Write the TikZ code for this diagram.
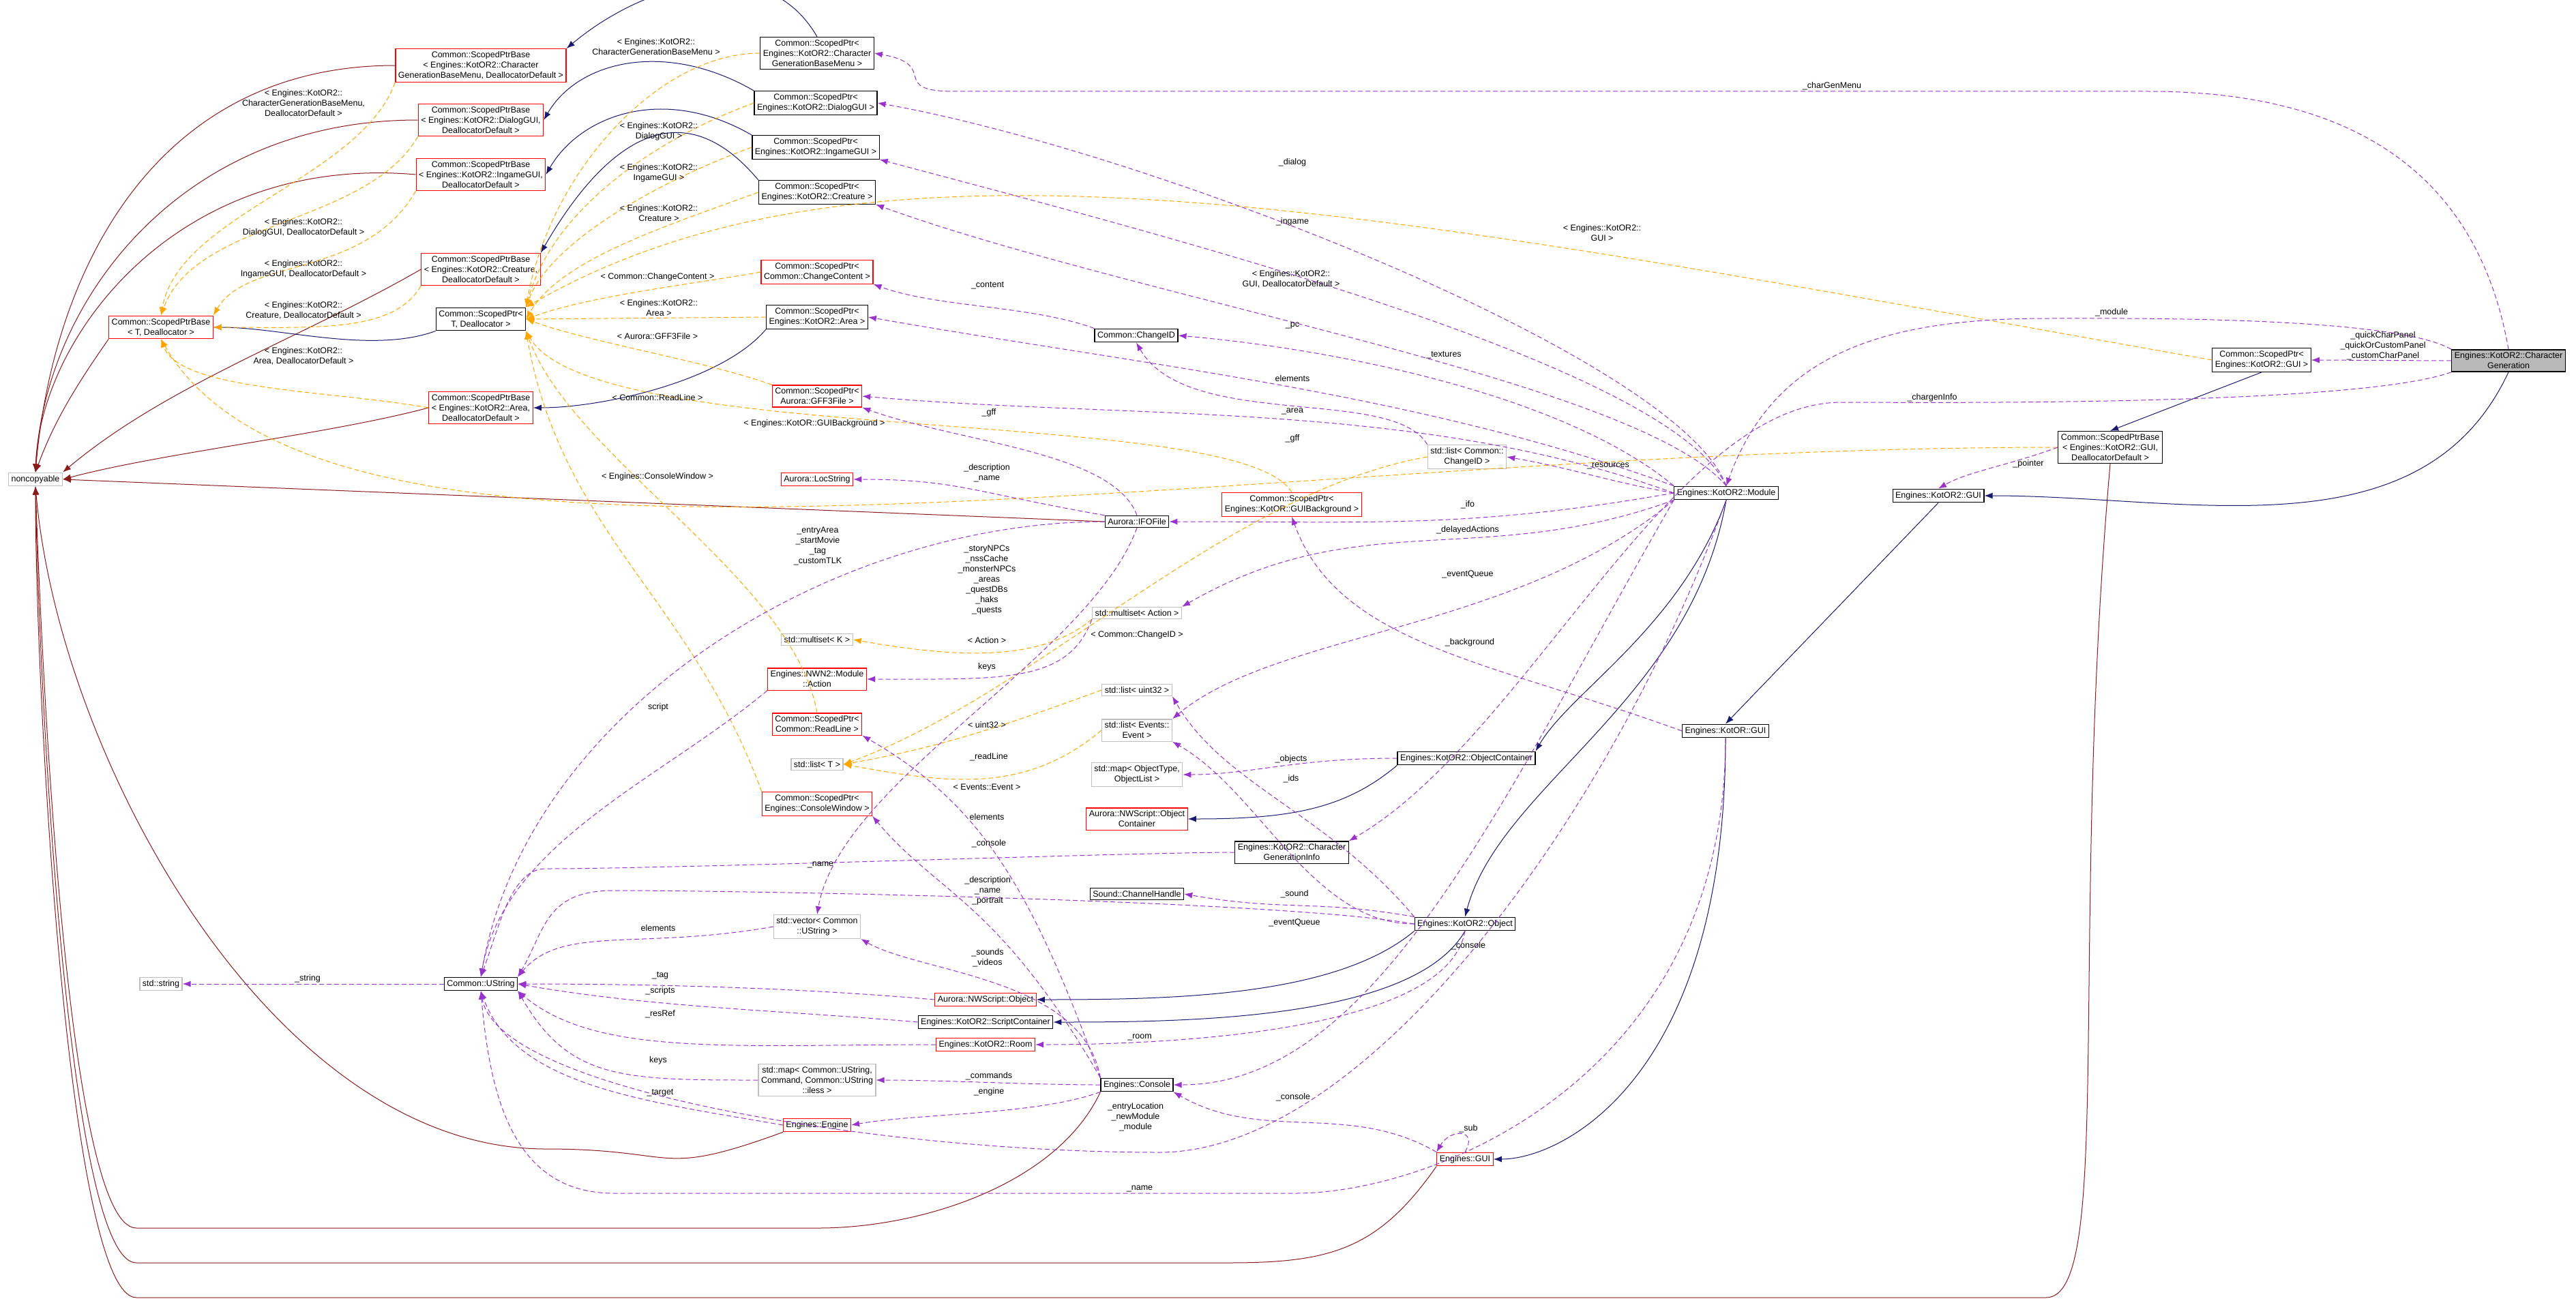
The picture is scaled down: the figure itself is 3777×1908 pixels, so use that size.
\documentclass[tikz,border=0pt]{standalone}
\usepackage{fontspec}
\setmainfont{Liberation Sans}
\usetikzlibrary{arrows.meta}
\definecolor{inh}{RGB}{25,25,112}
\definecolor{priv}{RGB}{139,26,26}
\definecolor{usec}{RGB}{153,50,204}
\definecolor{tmpl}{RGB}{255,165,0}
\begin{document}
\begin{tikzpicture}[x=1pt,y=1pt,
  every node/.style={font=\fontsize{12.5}{15}\selectfont},
  bx/.style={draw=black,line width=1.2pt,fill=white,align=center,inner sep=4pt},
  rbx/.style={bx,draw=red},
  gbx/.style={bx,draw=gray!50},
  lbl/.style={align=center,inner sep=1pt},
  inhe/.style={draw=inh,line width=1pt,-{Latex[length=12pt,width=9pt]}},
  prv/.style={draw=priv,line width=1pt,-{Latex[length=12pt,width=9pt]}},
  usee/.style={draw=usec,line width=1pt,dash pattern=on 7pt off 4pt,-{Latex[length=12pt,width=9pt]}},
  tmp/.style={draw=tmpl,line width=1pt,dash pattern=on 7pt off 4pt,-{Latex[length=12pt,width=9pt]}}]
\useasboundingbox (0,0) rectangle (3777,-1908);
% nodes
\node[gbx] (nc) at (52,-703) {noncopyable};
\node[rbx] (spbcg) at (705,-96) {Common::ScopedPtrBase\\< Engines::KotOR2::Character\\GenerationBaseMenu, DeallocatorDefault >};
\node[rbx] (spbdg) at (705,-176) {Common::ScopedPtrBase\\< Engines::KotOR2::DialogGUI,\\DeallocatorDefault >};
\node[rbx] (spbig) at (705,-256) {Common::ScopedPtrBase\\< Engines::KotOR2::IngameGUI,\\DeallocatorDefault >};
\node[rbx] (spbcr) at (705,-395) {Common::ScopedPtrBase\\< Engines::KotOR2::Creature,\\DeallocatorDefault >};
\node[rbx] (spbt) at (236,-480) {Common::ScopedPtrBase\\< T, Deallocator >};
\node[bx] (spt) at (705,-468) {Common::ScopedPtr<\\T, Deallocator >};
\node[rbx] (spbar) at (705,-598) {Common::ScopedPtrBase\\< Engines::KotOR2::Area,\\DeallocatorDefault >};
\node[bx] (spcg) at (1198,-78) {Common::ScopedPtr<\\Engines::KotOR2::Character\\GenerationBaseMenu >};
\node[bx] (spdg) at (1196,-151) {Common::ScopedPtr<\\Engines::KotOR2::DialogGUI >};
\node[bx] (spig) at (1196,-216) {Common::ScopedPtr<\\Engines::KotOR2::IngameGUI >};
\node[bx] (spcr) at (1198,-282) {Common::ScopedPtr<\\Engines::KotOR2::Creature >};
\node[rbx] (spcc) at (1198,-399) {Common::ScopedPtr<\\Common::ChangeContent >};
\node[bx] (spar) at (1198,-465) {Common::ScopedPtr<\\Engines::KotOR2::Area >};
\node[rbx] (spgff) at (1198,-581) {Common::ScopedPtr<\\Aurora::GFF3File >};
\node[rbx] (loc) at (1198,-703) {Aurora::LocString};
\node[gbx] (msk) at (1198,-938) {std::multiset< K >};
\node[rbx] (nwa) at (1198,-996) {Engines::NWN2::Module\\::Action};
\node[rbx] (sprl) at (1198,-1062) {Common::ScopedPtr<\\Common::ReadLine >};
\node[gbx] (lt) at (1198,-1121) {std::list< T >};
\node[rbx] (spcw) at (1198,-1179) {Common::ScopedPtr<\\Engines::ConsoleWindow >};
\node[gbx] (vus) at (1198,-1359) {std::vector< Common\\::UString >};
\node[gbx] (str) at (236,-1443) {std::string};
\node[bx] (us) at (705,-1443) {Common::UString};
\node[gbx] (mus) at (1198,-1584) {std::map< Common::UString,\\Command, Common::UString\\::iless >};
\node[rbx] (eng) at (1198,-1650) {Engines::Engine};
\node[bx] (cid) at (1666,-492) {Common::ChangeID};
\node[bx] (ifo) at (1667,-765) {Aurora::IFOFile};
\node[rbx] (spbg) at (1894,-740) {Common::ScopedPtr<\\Engines::KotOR::GUIBackground >};
\node[gbx] (msa) at (1667,-899) {std::multiset< Action >};
\node[gbx] (lu) at (1667,-1012) {std::list< uint32 >};
\node[gbx] (le) at (1667,-1071) {std::list< Events::\\Event >};
\node[gbx] (mot) at (1667,-1136) {std::map< ObjectType,\\ObjectList >};
\node[rbx] (noc) at (1667,-1201) {Aurora::NWScript::Object\\Container};
\node[bx] (cgi) at (1894,-1250) {Engines::KotOR2::Character\\GenerationInfo};
\node[bx] (snd) at (1667,-1311) {Sound::ChannelHandle};
\node[rbx] (nwo) at (1445,-1466) {Aurora::NWScript::Object};
\node[bx] (sc) at (1445,-1499) {Engines::KotOR2::ScriptContainer};
\node[rbx] (room) at (1445,-1532) {Engines::KotOR2::Room};
\node[bx] (con) at (1667,-1591) {Engines::Console};
\node[gbx] (lcid) at (2151,-670) {std::list< Common::\\ChangeID >};
\node[bx] (mod) at (2531,-723) {Engines::KotOR2::Module};
\node[bx] (k2gui) at (2842,-727) {Engines::KotOR2::GUI};
\node[bx] (spbgui) at (3094,-656) {Common::ScopedPtrBase\\< Engines::KotOR2::GUI,\\DeallocatorDefault >};
\node[bx] (kgui) at (2530,-1072) {Engines::KotOR::GUI};
\node[bx] (oc) at (2150,-1112) {Engines::KotOR2::ObjectContainer};
\node[bx] (obj) at (2148,-1355) {Engines::KotOR2::Object};
\node[rbx] (egui) at (2148,-1700) {Engines::GUI};
\node[bx] (spgui) at (3316,-528) {Common::ScopedPtr<\\Engines::KotOR2::GUI >};
\node[bx,fill=gray!55] (cg) at (3678,-529) {Engines::KotOR2::Character\\Generation};
% private inheritance to noncopyable
\draw[prv] (spbcg.west) .. controls +(180:350) and +(85:300) .. (nc.north);
\draw[prv] (spbdg.west) .. controls +(180:350) and +(87:250) .. (nc.north);
\draw[prv] (spbig.west) .. controls +(175:350) and +(88:200) .. (nc.north);
\draw[prv] (spbcr.west) .. controls +(210:200) and +(40:200) .. (nc.north east);
\draw[prv] (spbt.south west) .. controls +(235:80) and +(70:80) .. (nc.north);
\draw[prv] (spbar.west) .. controls +(195:150) and +(15:150) .. (nc.east);
\draw[prv] (ifo.west) -- (nc.east);
\draw[prv] (eng.south west) .. controls +(200:200) and +(0:200) .. (800,-1685) .. controls +(180:400) and +(-85:400) .. (nc.south);
\draw[prv] (con.south west) .. controls +(245:150) and +(0:150) .. (1200,-1801) -- (200,-1801) .. controls +(180:100) and +(-88:300) .. (nc.south);
\draw[prv] (egui.south west) .. controls +(235:150) and +(0:150) .. (1800,-1852) -- (200,-1852) .. controls +(180:100) and +(-89:300) .. (nc.south);
\draw[prv] (spbgui.south) .. controls +(-95:700) and +(0:100) .. (3000,-1903) -- (200,-1903) .. controls +(180:100) and +(-90:300) .. (nc.south);
% public inheritance
\draw[inhe] (spcg.north) .. controls +(120:150) and +(40:150) .. (spbcg.north east);
\draw[inhe] (spdg.north west) .. controls +(150:150) and +(60:100) .. (spbdg.east);
\draw[inhe] (spig.north west) .. controls +(150:150) and +(60:100) .. (spbig.east);
\draw[inhe] (spcr.north west) .. controls +(130:200) and +(60:150) .. (spbcr.north east);
\draw[inhe] (spt.south west) .. controls +(200:100) and +(0:100) .. (spbt.east);
\draw[inhe] (spar.south west) .. controls +(230:100) and +(0:100) .. (spbar.east);
\draw[inhe] (spgui.south) -- (spbgui.north);
\draw[inhe] (cg.south) .. controls +(-115:300) and +(0:300) .. (k2gui.east);
\draw[inhe] (k2gui.south) -- (kgui.north);
\draw[inhe] (kgui.south) .. controls +(-90:500) and +(0:100) .. (egui.east);
\draw[inhe] (mod.south) .. controls +(-110:200) and +(60:100) .. (oc.north east);
\draw[inhe] (mod.south) .. controls +(-100:300) and +(75:200) .. (obj.north);
\draw[inhe] (oc.south west) .. controls +(220:100) and +(0:150) .. (noc.east);
\draw[inhe] (obj.south west) .. controls +(220:150) and +(0:200) .. (nwo.east);
\draw[inhe] (obj.south) .. controls +(240:150) and +(0:200) .. (sc.east);
% template instantiation
\draw[tmp] (spcg.west) .. controls +(180:150) and +(80:200) .. (spt.north east);
\draw[tmp] (spdg.west) .. controls +(200:150) and +(75:150) .. (spt.north east);
\draw[tmp] (spig.west) .. controls +(200:150) and +(70:100) .. (spt.north east);
\draw[tmp] (spcr.west) .. controls +(200:150) and +(60:100) .. (spt.east);
\draw[tmp] (spcc.west) .. controls +(190:100) and +(20:100) .. (spt.east);
\draw[tmp] (spar.west) -- (spt.east);
\draw[tmp] (spgff.north west) .. controls +(160:100) and +(-20:100) .. (spt.east);
\draw[tmp] (sprl.north) .. controls +(100:200) and +(-70:200) .. (spt.south east);
\draw[tmp] (spcw.north west) .. controls +(110:300) and +(-80:300) .. (spt.south east);
\draw[tmp] (spbg.north) .. controls +(120:150) and +(-60:200) .. (spt.south east);
\draw[tmp] (spgui.west) .. controls +(170:1200) and +(30:600) .. (spt.north east);
\draw[tmp] (spbcg.south west) .. controls +(250:150) and +(80:150) .. (spbt.north);
\draw[tmp] (spbdg.south west) .. controls +(240:150) and +(70:150) .. (spbt.north);
\draw[tmp] (spbig.south west) .. controls +(240:150) and +(60:100) .. (spbt.north east);
\draw[tmp] (spbcr.south west) .. controls +(240:80) and +(0:150) .. (spbt.east);
\draw[tmp] (spbar.west) .. controls +(170:150) and +(-70:80) .. (spbt.south);
\draw[tmp] (spbgui.west) .. controls +(180:1200) and +(-60:500) .. (spbt.south);
\draw[tmp] (msa.south west) .. controls +(220:100) and +(-10:150) .. (msk.east);
\draw[tmp] (lcid.west) .. controls +(190:300) and +(20:300) .. (lt.east);
\draw[tmp] (lu.west) .. controls +(200:150) and +(10:150) .. (lt.east);
\draw[tmp] (le.west) .. controls +(220:150) and +(-10:150) .. (lt.east);
% usage
\draw[usee] (cg.north) .. controls +(100:300) and +(0:250) .. (3150,-134) -- (1400,-134) .. controls +(180:100) and +(-10:100) .. (spcg.east);
\draw[usee] (cg.west) -- (spgui.east);
\draw[usee] (cg.north west) .. controls +(150:100) and +(0:100) .. (3000,-467) .. controls +(180:250) and +(70:200) .. (mod.north);
\draw[usee] (cg.south west) .. controls +(200:150) and +(0:100) .. (2700,-590) .. controls +(180:250) and +(30:300) .. (cgi.north east);
\draw[usee] (spbgui.west) .. controls +(200:80) and +(30:50) .. (k2gui.north);
\draw[usee] (mod.north) .. controls +(110:200) and +(-10:400) .. (spdg.east);
\draw[usee] (mod.north) .. controls +(115:200) and +(-15:400) .. (spig.south east);
\draw[usee] (mod.north) .. controls +(130:200) and +(-20:400) .. (spcr.south east);
\draw[usee] (mod.north west) .. controls +(140:200) and +(-5:250) .. (cid.east);
\draw[usee] (cid.north west) .. controls +(160:100) and +(-20:100) .. (spcc.south east);
\draw[usee] (mod.north west) .. controls +(160:400) and +(-10:400) .. (spar.east);
\draw[usee] (mod.west) .. controls +(160:400) and +(-5:400) .. (spgff.east);
\draw[usee] (ifo.north) .. controls +(110:100) and +(-20:150) .. (spgff.south east);
\draw[usee] (lcid.north west) .. controls +(120:100) and +(-60:150) .. (cid.south);
\draw[usee] (mod.west) .. controls +(170:100) and +(-10:100) .. (lcid.east);
\draw[usee] (mod.west) .. controls +(190:300) and +(0:300) .. (ifo.east);
\draw[usee] (mod.south west) .. controls +(200:300) and +(30:300) .. (msa.north east);
\draw[usee] (mod.south west) .. controls +(220:300) and +(40:200) .. (le.north east);
\draw[usee] (kgui.west) .. controls +(160:300) and +(-70:200) .. (spbg.south);
\draw[usee] (ifo.north west) .. controls +(170:200) and +(0:150) .. (loc.east);
\draw[usee] (ifo.west) .. controls +(180:400) and +(80:400) .. (us.north);
\draw[usee] (ifo.south) .. controls +(-110:200) and +(80:200) .. (vus.north);
\draw[usee] (msa.south west) .. controls +(250:100) and +(0:200) .. (nwa.east);
\draw[usee] (nwa.south west) .. controls +(220:200) and +(80:200) .. (us.north);
\draw[usee] (con.north west) .. controls +(110:300) and +(-30:200) .. (sprl.south east);
\draw[usee] (con.north west) .. controls +(120:300) and +(-50:150) .. (spcw.south east);
\draw[usee] (con.north west) .. controls +(100:150) and +(-30:100) .. (vus.south east);
\draw[usee] (vus.west) .. controls +(190:200) and +(50:100) .. (us.north east);
\draw[usee] (oc.west) .. controls +(180:150) and +(0:100) .. (mot.east);
\draw[usee] (obj.north west) .. controls +(130:200) and +(-60:150) .. (lu.south east);
\draw[usee] (cgi.west) .. controls +(180:150) and +(0:200) .. (800,-1274) .. controls +(180:50) and +(70:80) .. (us.north);
\draw[usee] (obj.west) .. controls +(170:200) and +(0:200) .. (900,-1306) .. controls +(180:100) and +(60:80) .. (us.north east);
\draw[usee] (obj.north west) .. controls +(170:150) and +(-10:150) .. (snd.east);
\draw[usee] (obj.west) .. controls +(180:150) and +(-30:150) .. (le.south east);
\draw[usee] (obj.south) .. controls +(-100:150) and +(0:200) .. (room.east);
\draw[usee] (nwo.west) .. controls +(175:200) and +(0:200) .. (us.east);
\draw[usee] (sc.west) .. controls +(175:200) and +(-10:200) .. (us.east);
\draw[usee] (room.west) .. controls +(180:300) and +(-40:150) .. (us.south east);
\draw[usee] (mus.west) .. controls +(180:200) and +(-60:150) .. (us.south east);
\draw[usee] (eng.west) .. controls +(170:200) and +(-70:150) .. (us.south);
\draw[usee] (con.west) .. controls +(180:100) and +(0:100) .. (mus.east);
\draw[usee] (con.south west) .. controls +(200:100) and +(10:100) .. (eng.east);
\draw[usee] (mod.south) .. controls +(-110:500) and +(0:300) .. (1700,-1690) .. controls +(180:400) and +(-80:150) .. (us.south);
\draw[usee] (egui.north west) .. controls +(150:150) and +(-30:150) .. (con.south east);
\draw[usee] (mod.south west) .. controls +(240:500) and +(0:300) .. (con.east);
\draw[usee] (egui.north) .. controls +(60:40) and +(60:40) .. (egui.north west);
\draw[usee] (kgui.south) .. controls +(-90:500) and +(0:200) .. (1900,-1750) -- (900,-1750) .. controls +(180:150) and +(-85:150) .. (us.south);
\draw[usee] (us.west) -- (str.east);
% labels
\node[lbl] at (962,-69) {< Engines::KotOR2::\\CharacterGenerationBaseMenu >};
\node[lbl] at (445,-151) {< Engines::KotOR2::\\CharacterGenerationBaseMenu,\\DeallocatorDefault >};
\node[lbl] at (966,-193) {< Engines::KotOR2::\\DialogGUI >};
\node[lbl] at (966,-254) {< Engines::KotOR2::\\IngameGUI >};
\node[lbl] at (966,-313) {< Engines::KotOR2::\\Creature >};
\node[lbl] at (445,-334) {< Engines::KotOR2::\\DialogGUI, DeallocatorDefault >};
\node[lbl] at (445,-395) {< Engines::KotOR2::\\IngameGUI, DeallocatorDefault >};
\node[lbl] at (445,-455) {< Engines::KotOR2::\\Creature, DeallocatorDefault >};
\node[lbl] at (964,-406) {< Common::ChangeContent >};
\node[lbl] at (966,-452) {< Engines::KotOR2::\\Area >};
\node[lbl] at (964,-493) {< Aurora::GFF3File >};
\node[lbl] at (445,-522) {< Engines::KotOR2::\\Area, DeallocatorDefault >};
\node[lbl] at (964,-583) {< Common::ReadLine >};
\node[lbl] at (1194,-621) {< Engines::KotOR::GUIBackground >};
\node[lbl] at (964,-699) {< Engines::ConsoleWindow >};
\node[lbl] at (1447,-694) {\_description\\\_name};
\node[lbl] at (1450,-605) {\_gff};
\node[lbl] at (1199,-801) {\_entryArea\\\_startMovie\\\_tag\\\_customTLK};
\node[lbl] at (1447,-850) {\_storyNPCs\\\_nssCache\\\_monsterNPCs\\\_areas\\\_questDBs\\\_haks\\\_quests};
\node[lbl] at (1447,-939) {< Action >};
\node[lbl] at (1667,-931) {< Common::ChangeID >};
\node[lbl] at (1447,-978) {keys};
\node[lbl] at (965,-1037) {script};
\node[lbl] at (1447,-1063) {< uint32 >};
\node[lbl] at (1450,-1110) {\_readLine};
\node[lbl] at (1447,-1154) {< Events::Event >};
\node[lbl] at (1447,-1198) {elements};
\node[lbl] at (1450,-1237) {\_console};
\node[lbl] at (1203,-1268) {\_name};
\node[lbl] at (1448,-1306) {\_description\\\_name\\\_portrait};
\node[lbl] at (451,-1435) {\_string};
\node[lbl] at (965,-1361) {elements};
\node[lbl] at (968,-1431) {\_tag};
\node[lbl] at (968,-1453) {\_scripts};
\node[lbl] at (968,-1487) {\_resRef};
\node[lbl] at (965,-1555) {keys};
\node[lbl] at (968,-1603) {\_target};
\node[lbl] at (1448,-1405) {\_sounds\\\_videos};
\node[lbl] at (1450,-1578) {\_commands};
\node[lbl] at (1450,-1601) {\_engine};
\node[lbl] at (1665,-1638) {\_entryLocation\\\_newModule\\\_module};
\node[lbl] at (1671,-1743) {\_name};
\node[lbl] at (1898,-1311) {\_sound};
\node[lbl] at (1898,-1353) {\_eventQueue};
\node[lbl] at (2153,-1387) {\_console};
\node[lbl] at (1671,-1521) {\_room};
\node[lbl] at (1896,-1609) {\_console};
\node[lbl] at (2153,-1655) {\_sub};
\node[lbl] at (2358,-683) {\_resources};
\node[lbl] at (2152,-740) {\_ifo};
\node[lbl] at (2152,-777) {\_delayedActions};
\node[lbl] at (2152,-842) {\_eventQueue};
\node[lbl] at (2155,-942) {\_background};
\node[lbl] at (2974,-680) {\_pointer};
\node[lbl] at (1893,-1113) {\_objects};
\node[lbl] at (1893,-1142) {\_ids};
\node[lbl] at (1895,-238) {\_dialog};
\node[lbl] at (1895,-325) {\_ingame};
\node[lbl] at (1893,-409) {< Engines::KotOR2::\\GUI, DeallocatorDefault >};
\node[lbl] at (1448,-419) {\_content};
\node[lbl] at (1895,-477) {\_pc};
\node[lbl] at (1895,-555) {elements};
\node[lbl] at (1895,-603) {\_area};
\node[lbl] at (1895,-643) {\_gff};
\node[lbl] at (2117,-521) {\_textures};
\node[lbl] at (2349,-342) {< Engines::KotOR2::\\GUI >};
\node[lbl] at (2686,-126) {\_charGenMenu};
\node[lbl] at (3096,-458) {\_module};
\node[lbl] at (3494,-507) {\_quickCharPanel\\\_quickOrCustomPanel\\\_customCharPanel};
\node[lbl] at (2833,-583) {\_chargenInfo};
\end{tikzpicture}
\end{document}
